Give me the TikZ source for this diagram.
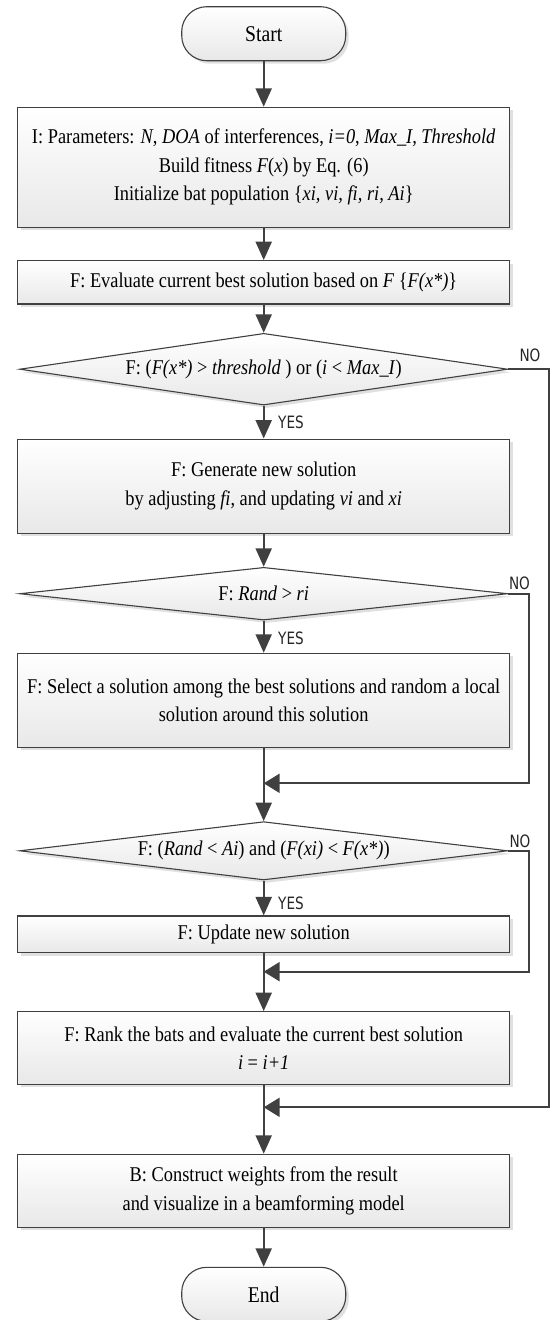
\documentclass[tikz,border=0pt]{standalone}
\usepackage{fontspec}
\setmainfont{Liberation Serif}[FakeStretch=0.875]
\newfontfamily\lblfont{DejaVu Sans}[FakeStretch=0.8]
\usetikzlibrary{arrows.meta,shapes.geometric,shadows}
\definecolor{edge}{HTML}{404040}
\tikzset{
  shd/.style={drop shadow={shadow xshift=3pt,shadow yshift=-3pt,fill=black!12,opacity=1}},
  procbox/.style={draw=edge,line width=1.1pt,top color=white,bottom color=black!9,shd,
    minimum width=492pt,align=center,inner sep=0pt,
    font=\fontsize{21}{28.5}\selectfont},
  termbox/.style={procbox,minimum width=164pt,minimum height=54pt,rounded corners=25pt,
    font=\fontsize{22.5}{28.5}\selectfont},
  decbox/.style={draw=edge,line width=1.1pt,top color=white,bottom color=black!9,shd,
    shape=diamond,aspect=7,inner sep=0pt,minimum width=488pt,
    font=\fontsize{21}{28.5}\selectfont},
  flowv/.style={draw=edge,line width=2.3pt,-{Triangle[length=18.5pt,width=16pt]}},
  flowh/.style={draw=edge,line width=2.3pt,-{Triangle[length=16pt,width=19pt]}},
  plainline/.style={draw=edge,line width=2.3pt},
  lbl/.style={font=\lblfont\fontsize{17}{17}\selectfont,inner sep=0pt,text=black!85}
}
\begin{document}
\begin{tikzpicture}[x=1pt,y=-1pt]
\useasboundingbox (0,0) rectangle (552,1320);
\def\cx{263.7}
\node[termbox] (start) at (\cx,33.7) {Start};
\node[procbox,minimum height=120pt] (init) at (\cx,167.3)
  {I: Parameters: \textit{N}, \textit{DOA} of interferences, \textit{i=0}, \textit{Max\_I, Threshold}\\
   Build fitness \textit{F}(\textit{x}) by Eq. (6)\\
   Initialize bat population \{\textit{xi, vi, fi, ri, Ai}\}};
\node[procbox,minimum height=43.3pt] (eval) at (\cx,282.3)
  {F: Evaluate current best solution based on \textit{F} \{\textit{F(x*)}\}};
\node[decbox,minimum height=71.7pt] (d1) at (\cx,369.2)
  {F: (\textit{F(x*)} > \textit{threshold} ) or (\textit{i} < \textit{Max\_I})};
\node[procbox,minimum height=94.3pt] (gen) at (\cx,486.2)
  {F: Generate new solution\\by adjusting \textit{fi}, and updating \textit{vi} and \textit{xi}};
\node[decbox,minimum height=52.7pt] (d2) at (\cx,593.7)
  {F: \textit{Rand} > \textit{ri}};
\node[procbox,minimum height=94pt] (sel) at (\cx,700.3)
  {F: Select a solution among the best solutions and random a local\\solution around this solution};
\coordinate (m1) at (\cx,783.3);
\node[decbox,minimum height=58.3pt] (d3) at (\cx,850.8)
  {F: (\textit{Rand} < \textit{Ai}) and (\textit{F(xi)} < \textit{F(x*)})};
\node[procbox,minimum height=36.7pt] (upd) at (\cx,934.3)
  {F: Update new solution};
\coordinate (m2) at (\cx,971.7);
\node[procbox,minimum height=72.7pt] (rank) at (\cx,1048)
  {F: Rank the bats and evaluate the current best solution\\\textit{i} = \textit{i+1}};
\coordinate (m3) at (\cx,1107.3);
\node[procbox,minimum height=73pt] (build) at (\cx,1190.8)
  {B: Construct weights from the result\\and visualize in a beamforming model};
\node[termbox] (stop) at (\cx,1294.3) {End};
% corner coordinates for NO loops
\coordinate (c1a) at (549,369.2);
\coordinate (c1b) at (549,1107.3);
\coordinate (c2a) at (529,593.7);
\coordinate (c2b) at (529,783.3);
\coordinate (c3a) at (529,850.8);
\coordinate (c3b) at (529,971.7);
% main flow
\draw[flowv] (start) -- (init);
\draw[flowv] (init) -- (eval);
\draw[flowv] (eval) -- (d1);
\draw[flowv] (d1) -- (gen);
\draw[flowv] (gen) -- (d2);
\draw[flowv] (d2) -- (sel);
\draw[plainline] (sel) -- (m1);
\draw[flowv] (m1) -- (d3);
\draw[flowv] (d3) -- (upd);
\draw[plainline] (upd) -- (m2);
\draw[flowv] (m2) -- (rank);
\draw[plainline] (rank) -- (m3);
\draw[flowv] (m3) -- (build);
\draw[flowv] (build) -- (stop);
% NO loops
\draw[flowh] (d1.east) -- (c1a) -- (c1b) -- (m3);
\draw[flowh] (d2.east) -- (c2a) -- (c2b) -- (m1);
\draw[flowh] (d3.east) -- (c3a) -- (c3b) -- (m2);
% labels
\node[lbl] (no1) at (530,355) {NO};
\node[lbl] (no2) at (519.5,583) {NO};
\node[lbl] (no3) at (520,841) {NO};
\node[lbl] (yes1) at (291,422) {YES};
\node[lbl] (yes2) at (291,638.3) {YES};
\node[lbl] (yes3) at (291,903) {YES};
\end{tikzpicture}
\end{document}
